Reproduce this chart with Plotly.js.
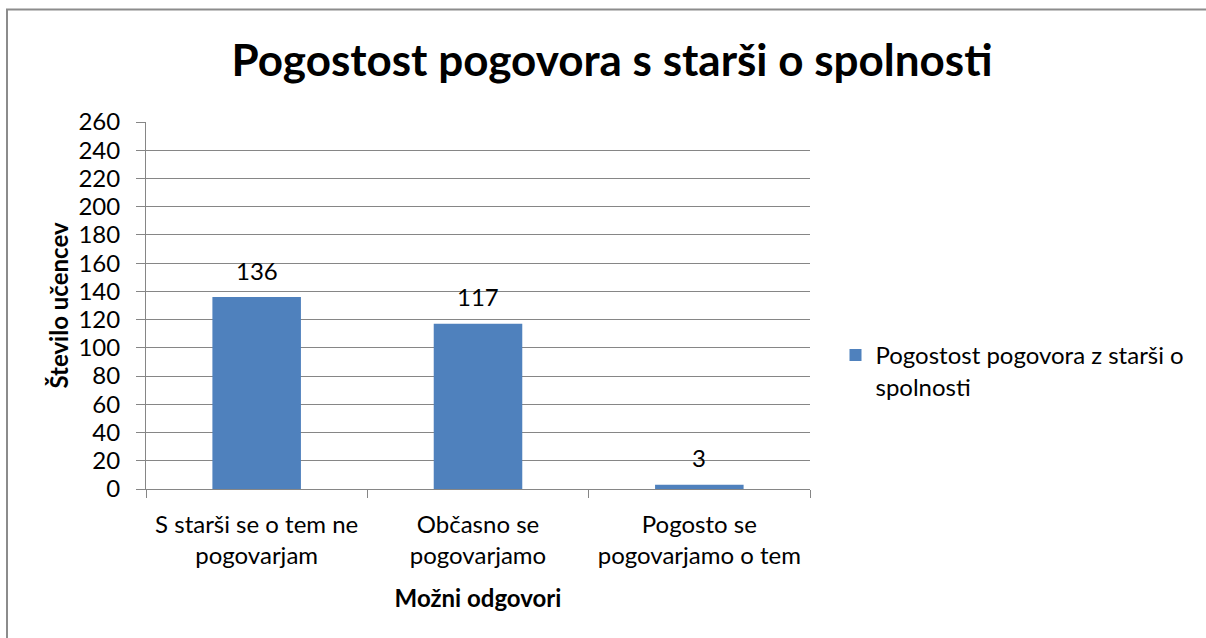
<!DOCTYPE html>
<html>
<head>
<meta charset="utf-8">
<script src="https://cdn.plot.ly/plotly-3.0.1.min.js"></script>
<style>
html,body{margin:0;padding:0;background:#fff;overflow:hidden;}
#chart{width:1206px;height:638px;}
</style>
</head>
<body>
<div id="chart"></div>
<script>
const categories = ["S starši se o tem ne<br>pogovarjam", "Občasno se<br>pogovarjamo", "Pogosto se<br>pogovarjamo o tem"];
const values = [136, 117, 3];
const seriesName = "Pogostost pogovora z starši o<br>spolnosti";
const yTicks = [0, 20, 40, 60, 80, 100, 120, 140, 160, 180, 200, 220, 240, 260];
const chartTitle = "Pogostost pogovora s starši o spolnosti";
const xTitle = "Možni odgovori";
const yTitle = "Število učencev";

const FONT = "Lato, 'Open Sans', sans-serif";
const L = 146, R = 396, T = 122, B = 149, W = 1206, H = 638;
const pw = W - L - R, ph = H - T - B;
const px = v => (v - L) / pw;
const py = v => (H - B - v) / ph;

const trace = {
  type: "bar",
  x: categories,
  y: values,
  name: seriesName,
  marker: {color: "#4F81BD", line: {width: 0}},
  hoverinfo: "x+y"
};

const annotations = categories.map((c, i) => ({
  x: c, y: values[i], xref: "x", yref: "y",
  text: String(values[i]), showarrow: false,
  yanchor: "middle", yshift: 27,
  font: {family: FONT, size: 24, color: "#000"}
}));

const layout = {
  width: W, height: H,
  margin: {l: L, r: R, t: T, b: B, pad: 0},
  paper_bgcolor: "#fff", plot_bgcolor: "#fff",
  font: {family: FONT, color: "#000"},
  title: {
    text: "<b>" + chartTitle + "</b>",
    font: {family: FONT, size: 44, color: "#000"},
    x: 612 / W, xanchor: "center", xref: "container",
    y: 1 - 61 / H, yanchor: "middle", yref: "container"
  },
  bargap: 0.6,
  showlegend: true,
  legend: {
    x: px(835.5), y: py(333), xanchor: "left", yanchor: "top",
    font: {family: FONT, size: 24, color: "#000"},
    valign: "top", bgcolor: "rgba(0,0,0,0)", borderwidth: 0
  },
  xaxis: {
    type: "category",
    showgrid: false,
    showline: true, linecolor: "#868686", linewidth: 1,
    ticks: "outside", tickson: "boundaries", ticklen: 8, tickcolor: "#868686",
    ticklabelstandoff: 14,
    tickfont: {family: FONT, size: 24, color: "#000"},
    title: {text: "<b>" + xTitle + "</b>", font: {family: FONT, size: 24, color: "#000"}, standoff: 22},
    automargin: false, fixedrange: true
  },
  yaxis: {
    range: [0, 260],
    tickvals: yTicks, ticktext: yTicks.map(String),
    showgrid: true, gridcolor: "#868686", gridwidth: 1,
    zeroline: false,
    showline: true, linecolor: "#868686", linewidth: 1,
    ticks: "outside", ticklen: 9, tickcolor: "#868686",
    ticklabelstandoff: 11,
    tickfont: {family: FONT, size: 24, color: "#000"},
    title: {text: "<b>" + yTitle + "</b>", font: {family: FONT, size: 24, color: "#000"}, standoff: 3},
    automargin: false, fixedrange: true
  },
  annotations: annotations,
  shapes: [{
    type: "rect", xref: "paper", yref: "paper",
    x0: px(7), x1: px(1300), y0: py(720), y1: py(9.5),
    line: {color: "#8C8C8C", width: 2}, fillcolor: "rgba(0,0,0,0)", layer: "below"
  }]
};

Plotly.newPlot("chart", [trace], layout, {displayModeBar: false, staticPlot: true});
</script>
</body>
</html>
